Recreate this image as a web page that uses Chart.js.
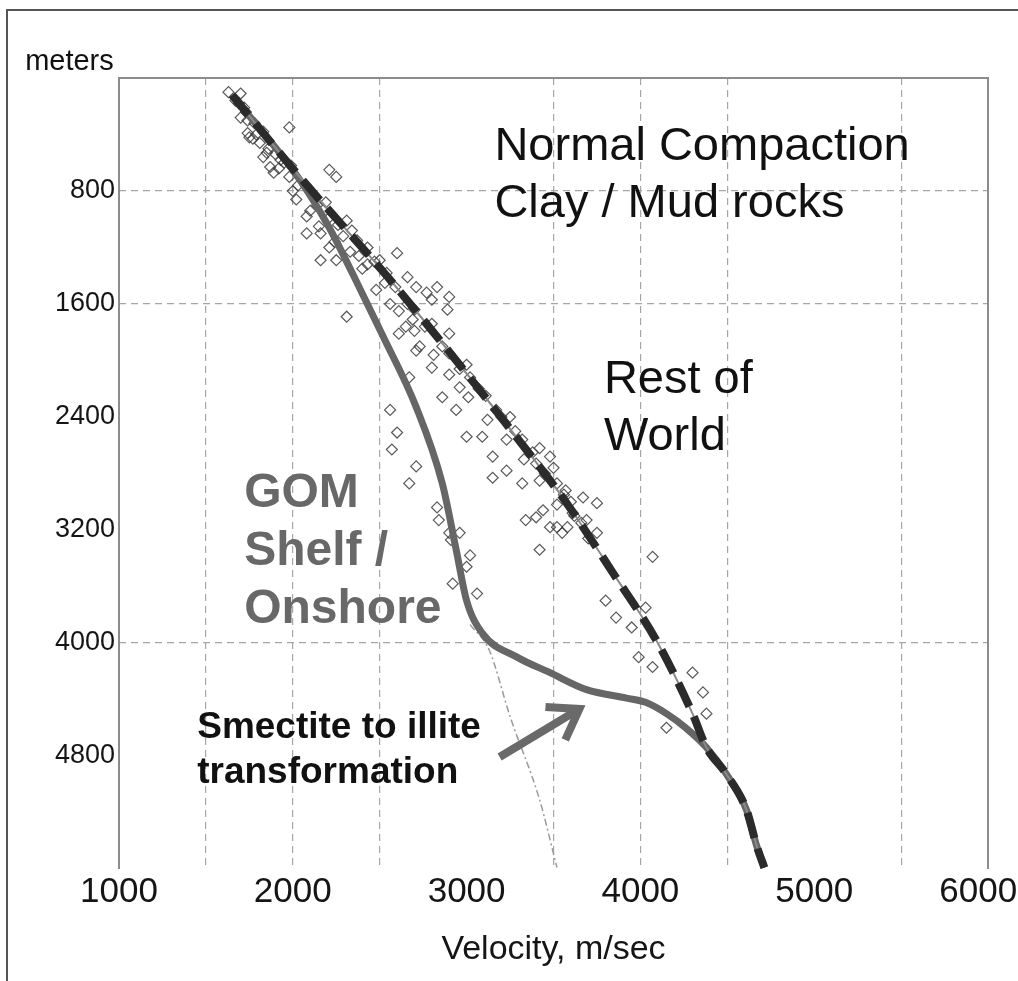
<!DOCTYPE html>
<html>
<head>
<meta charset="utf-8">
<title>Velocity vs depth</title>
<script src="https://cdn.jsdelivr.net/npm/chart.js@4.4.1/dist/chart.umd.min.js"></script>
<style>
  html, body { margin: 0; padding: 0; background: #fff; }
  #wrap { position: relative; width: 1018px; height: 981px; overflow: hidden; }
  #frame {
    position: absolute; left: 6px; top: 9px; width: 1030px; height: 1000px;
    border-left: 2px solid #555; border-top: 2px solid #555;
    pointer-events: none;
  }
</style>
</head>
<body>
<div id="wrap">
  <canvas id="chart" width="1018" height="981"></canvas>
  <div id="frame"></div>
</div>
<script>
// Axis ticks (velocity m/s on x, depth m on y, depth increases downwards)
const velocityLabels = [1000, 2000, 3000, 4000, 5000, 6000];
const velocityGrid = [1500, 2000, 2500, 3500, 4000, 4500, 5500];
const depthLabels = [800, 1600, 2400, 3200, 4000, 4800];
const depthGrid = [800, 1600, 4000];

// "Rest of World" normal compaction trend (dashed)
const worldVelocity = [1650, 2040, 2540, 2940, 3260, 3570, 3840, 4100, 4300, 4380, 4490, 4610, 4670, 4713];
const worldDepth    = [120,  700,  1400, 2000, 2500, 3000, 3500, 4000, 4500, 4740, 4920, 5180, 5440, 5590];

// GOM shelf / onshore trend (solid grey)
const gomVelocity = [1650, 2040, 2210, 2350, 2520, 2710, 2860, 2940, 3000, 3090, 3290, 3480, 3690, 3920, 4030, 4150, 4260, 4380, 4490, 4610, 4670, 4713];
const gomDepth    = [120,  720,  1060, 1400, 1830, 2330, 2870, 3340, 3700, 3930, 4100, 4210, 4330, 4390, 4420, 4500, 4600, 4740, 4920, 5180, 5440, 5590];

// thin dash-dot extension of the GOM trend without the smectite/illite step
const trendVelocity = [3020, 3130, 3250, 3420, 3520];
const trendDepth    = [3870, 4050, 4520, 5110, 5590];

// measured clay / mudrock points
const cloudVelocity = [1630, 1670, 1720, 1700, 1740, 1810, 1870, 1930, 1980, 2020, 2080, 2160, 2210, 2250, 2310, 2370,
  2430, 2500, 2600, 2540, 2660, 2250, 2210, 1890, 1850, 1750, 1980, 2770, 2830, 2890, 2690, 2610, 2730, 2310, 2160, 2080,
  2710, 2670, 2800, 2860, 2940, 3000, 3090, 3150, 3230, 3320, 3400, 3480, 3520, 3570, 3670, 3750, 3400, 3480, 3550, 3150,
  2600, 2570, 2560, 2710, 2900, 3020, 2800, 2900, 2710, 3250, 2960, 2670, 2830, 2900, 3340, 3440, 3520, 3610, 3690, 3420,
  3800, 3860, 3950, 4030, 3990, 4070, 4300, 4360, 4380, 4150, 3000, 3060, 2960, 2920, 4070, 2840, 2910, 3020,
  1690, 1730, 1740, 1780, 1700, 1790, 1830, 1770, 1860, 1900, 1830, 1950, 1990, 1920, 2030, 2090, 2000, 2140, 2190, 2100,
  2200, 2260, 2150, 2290, 2340, 2240, 2380, 2330, 2430, 2470, 2400, 2530, 2590, 2480, 2660, 2700, 2610, 2560, 2760, 2800,
  2700, 2650, 2860, 2900, 2810, 2960, 3000, 2900, 3070, 3110, 3010, 3170, 3200, 3120, 3280, 3320, 3230, 3380, 3420, 3330,
  3450, 3500, 3420, 3560, 3600, 3520, 3620, 3660, 3580, 3700, 3750];
const cloudDepth = [100, 160, 210, 110, 390, 460, 630, 580, 700, 860, 980, 1100, 1200, 1290, 1010, 1150,
  1200, 1290, 1240, 1380, 1410, 700, 650, 670, 530, 420, 350, 1520, 1480, 1640, 1710, 1810, 1900, 1690, 1290, 1100,
  1930, 2120, 2050, 2260, 2350, 2540, 2540, 2680, 2780, 2870, 2730, 2680, 2870, 2920, 2970, 3010, 3110, 3180, 3220, 2830,
  2510, 2630, 2350, 2750, 1810, 2120, 1570, 1550, 1480, 2400, 2190, 2870, 3040, 3220, 3130, 3060, 3180, 3080, 3130, 3340,
  3700, 3820, 3890, 3750, 4100, 4170, 4210, 4350, 4500, 4600, 3460, 3650, 3220, 3580, 3390, 3130, 3270, 3380,
  180, 240, 300, 320, 280, 400, 380, 430, 500, 540, 560, 600, 620, 640, 760, 780, 800, 900, 880, 940,
  1000, 1040, 1050, 1120, 1080, 1160, 1260, 1230, 1320, 1300, 1350, 1450, 1480, 1500, 1600, 1640, 1650, 1600, 1760, 1740,
  1790, 1760, 1900, 1950, 1960, 2060, 2030, 2100, 2200, 2250, 2260, 2350, 2400, 2420, 2500, 2560, 2560, 2650, 2620, 2700,
  2800, 2760, 2850, 2950, 3000, 3020, 3100, 3150, 3180, 3260, 3220];

// text labels placed in data units (left edge, baseline)
const notes = [
  { text: 'meters', v: 460, d: -57, font: '29px "Liberation Sans", Arial, sans-serif', color: '#111' },
  { text: 'Normal Compaction', v: 3160, d: 580, font: '47px "Liberation Sans", Arial, sans-serif', color: '#111' },
  { text: 'Clay / Mud rocks', v: 3160, d: 985, font: '47px "Liberation Sans", Arial, sans-serif', color: '#111' },
  { text: 'Rest of', v: 3790, d: 2230, font: '47px "Liberation Sans", Arial, sans-serif', color: '#111' },
  { text: 'World', v: 3790, d: 2635, font: '47px "Liberation Sans", Arial, sans-serif', color: '#111' },
  { text: 'GOM', v: 1720, d: 3040, font: 'bold 48px "Liberation Sans", Arial, sans-serif', color: '#686868' },
  { text: 'Shelf /', v: 1720, d: 3450, font: 'bold 48px "Liberation Sans", Arial, sans-serif', color: '#686868' },
  { text: 'Onshore', v: 1720, d: 3860, font: 'bold 48px "Liberation Sans", Arial, sans-serif', color: '#686868' },
  { text: 'Smectite to illite', v: 1450, d: 4675, font: 'bold 37px "Liberation Sans", Arial, sans-serif', color: '#111' },
  { text: 'transformation', v: 1450, d: 4990, font: 'bold 37px "Liberation Sans", Arial, sans-serif', color: '#111' }
];
const arrowFrom = [3190, 4807];
const arrowTo = [3649, 4467];

function pairs(xs, ys) {
  return xs.map((x, i) => ({ x: x, y: ys[i] }));
}

// left, top and right edges of the plot box (no bottom edge in the original)
const framePlugin = {
  id: 'frame',
  beforeDatasetsDraw(chart) {
    const { ctx, chartArea: a } = chart;
    ctx.save();
    ctx.strokeStyle = '#8c8c8c';
    ctx.lineWidth = 2;
    ctx.beginPath();
    ctx.moveTo(a.left, a.bottom);
    ctx.lineTo(a.left, a.top);
    ctx.lineTo(a.right, a.top);
    ctx.lineTo(a.right, a.bottom);
    ctx.stroke();
    ctx.restore();
  }
};

// annotation texts and the arrow
const notesPlugin = {
  id: 'notes',
  afterDatasetsDraw(chart) {
    const { ctx, scales } = chart;
    ctx.save();
    ctx.textAlign = 'left';
    ctx.textBaseline = 'alphabetic';
    notes.forEach(n => {
      ctx.font = n.font;
      ctx.fillStyle = n.color;
      ctx.fillText(n.text, scales.x.getPixelForValue(n.v), scales.y.getPixelForValue(n.d));
    });

    const x0 = scales.x.getPixelForValue(arrowFrom[0]);
    const y0 = scales.y.getPixelForValue(arrowFrom[1]);
    const x1 = scales.x.getPixelForValue(arrowTo[0]);
    const y1 = scales.y.getPixelForValue(arrowTo[1]);
    const ang = Math.atan2(y1 - y0, x1 - x0);
    const head = 34;
    ctx.strokeStyle = '#6a6a6a';
    ctx.lineWidth = 8;
    ctx.lineCap = 'butt';
    ctx.lineJoin = 'miter';
    ctx.beginPath();
    ctx.moveTo(x0, y0);
    ctx.lineTo(x1 - 4 * Math.cos(ang), y1 - 4 * Math.sin(ang));
    ctx.stroke();
    ctx.beginPath();
    ctx.moveTo(x1 - head * Math.cos(ang - 0.6), y1 - head * Math.sin(ang - 0.6));
    ctx.lineTo(x1, y1);
    ctx.lineTo(x1 - head * Math.cos(ang + 0.6), y1 - head * Math.sin(ang + 0.6));
    ctx.stroke();
    ctx.restore();
  }
};

const allVelocityTicks = Array.from(new Set(velocityLabels.concat(velocityGrid))).sort((a, b) => a - b);

new Chart(document.getElementById('chart'), {
  type: 'scatter',
  data: {
    datasets: [
      {
        label: 'Rest of World',
        data: pairs(worldVelocity, worldDepth),
        showLine: true,
        pointRadius: 0,
        borderColor: '#2b2b2b',
        borderWidth: 8,
        borderDash: [26, 11],
        cubicInterpolationMode: 'monotone',
        order: 1
      },
      {
        // thin grey trace that joins the dashes
        label: 'Rest of World (trace)',
        data: pairs(worldVelocity, worldDepth),
        showLine: true,
        pointRadius: 0,
        borderColor: '#8a8a8a',
        borderWidth: 2,
        cubicInterpolationMode: 'monotone',
        order: 2
      },
      {
        label: 'GOM Shelf / Onshore',
        data: pairs(gomVelocity, gomDepth),
        showLine: true,
        pointRadius: 0,
        borderColor: '#666666',
        borderWidth: 7,
        cubicInterpolationMode: 'monotone',
        order: 3
      },
      {
        label: 'GOM trend',
        data: pairs(trendVelocity, trendDepth),
        showLine: true,
        pointRadius: 0,
        borderColor: '#9a9a9a',
        borderWidth: 1.5,
        borderDash: [7, 3, 2, 3],
        cubicInterpolationMode: 'monotone',
        order: 4
      },
      {
        label: 'Clay / mud rocks',
        data: pairs(cloudVelocity, cloudDepth),
        pointStyle: 'rectRot',
        pointRadius: 5.5,
        borderWidth: 1.2,
        borderColor: 'rgba(60,60,60,0.85)',
        backgroundColor: 'rgba(0,0,0,0)',
        order: 5
      }
    ]
  },
  options: {
    responsive: false,
    animation: false,
    events: [],
    layout: { padding: { left: 0, top: 78, right: 30, bottom: 0 } },
    plugins: {
      legend: { display: false },
      tooltip: { enabled: false }
    },
    scales: {
      x: {
        type: 'linear',
        min: 1000,
        max: 6000,
        afterBuildTicks: axis => { axis.ticks = allVelocityTicks.map(v => ({ value: v })); },
        afterFit: scale => { scale.height = 112; scale.paddingLeft = 0; scale.paddingRight = 0; },
        border: { display: false, dash: [7, 5] },
        grid: {
          drawTicks: false,
          color: ctx => velocityGrid.includes(ctx.tick.value) ? '#a6a6a6' : 'rgba(0,0,0,0)',
          lineWidth: 1.2
        },
        ticks: {
          autoSkip: false,
          maxRotation: 0,
          minRotation: 0,
          padding: 2,
          color: '#151515',
          font: { family: '"Liberation Sans", Arial, sans-serif', size: 35 },
          callback: v => {
            if (!velocityLabels.includes(v)) return '';
            return v === 6000 ? v + '  ' : String(v);
          }
        },
        title: {
          display: true,
          text: 'Velocity, m/sec',
          color: '#151515',
          font: { family: '"Liberation Sans", Arial, sans-serif', size: 34 },
          padding: { top: 0, bottom: 11 }
        }
      },
      y: {
        type: 'linear',
        reverse: true,
        min: 0,
        max: 5600,
        afterBuildTicks: axis => { axis.ticks = depthLabels.map(v => ({ value: v })); },
        afterFit: scale => { scale.width = 119; scale.paddingTop = 0; scale.paddingBottom = 0; },
        border: { display: false, dash: [7, 5] },
        grid: {
          drawTicks: false,
          color: ctx => depthGrid.includes(ctx.tick.value) ? '#a6a6a6' : 'rgba(0,0,0,0)',
          lineWidth: 1.2
        },
        ticks: {
          padding: 4,
          color: '#151515',
          font: { family: '"Liberation Sans", Arial, sans-serif', size: 27 },
          callback: v => String(v)
        }
      }
    }
  },
  plugins: [framePlugin, notesPlugin]
});
</script>
</body>
</html>
